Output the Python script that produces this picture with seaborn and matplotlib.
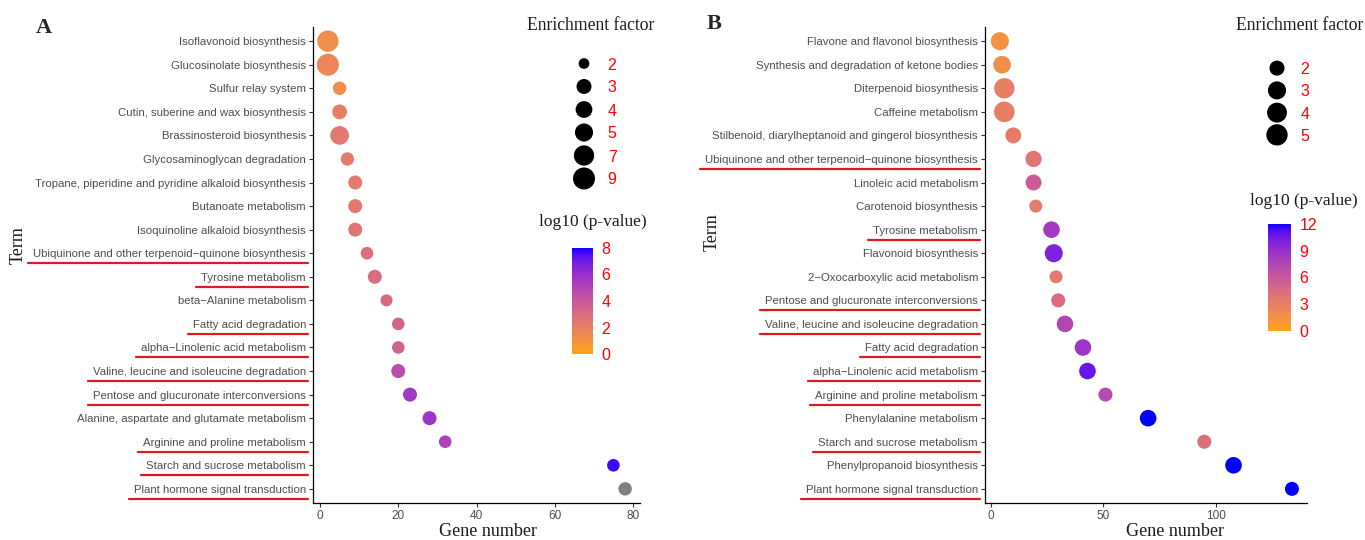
import numpy as np
import pandas as pd
import matplotlib
matplotlib.use("Agg")
import matplotlib.pyplot as plt
import seaborn as sns
from matplotlib.colors import ListedColormap, Normalize
from matplotlib.cm import ScalarMappable
from matplotlib.lines import Line2D

# Panel A : KEGG terms
terms_a = [
    "Isoflavonoid biosynthesis", "Glucosinolate biosynthesis", "Sulfur relay system",
    "Cutin, suberine and wax biosynthesis", "Brassinosteroid biosynthesis",
    "Glycosaminoglycan degradation", "Tropane, piperidine and pyridine alkaloid biosynthesis",
    "Butanoate metabolism", "Isoquinoline alkaloid biosynthesis",
    "Ubiquinone and other terpenoid\u2212quinone biosynthesis", "Tyrosine metabolism",
    "beta\u2212Alanine metabolism", "Fatty acid degradation", "alpha\u2212Linolenic acid metabolism",
    "Valine, leucine and isoleucine degradation", "Pentose and glucuronate interconversions",
    "Alanine, aspartate and glutamate metabolism", "Arginine and proline metabolism",
    "Starch and sucrose metabolism", "Plant hormone signal transduction",
]
genes_a = [2, 2, 5, 5, 5, 7, 9, 9, 9, 12, 14, 17, 20, 20, 20, 23, 28, 32, 75, 78]
ef_a = [8.2, 9.0, 2.4, 2.9, 5.5, 2.4, 2.6, 2.6, 2.6, 2.2, 2.6, 2.1, 2.2, 2.2, 2.6, 2.6, 2.6, 2.2, 2.2, 2.4]
logp_a = [1.2, 1.6, 1.2, 2.0, 2.4, 2.2, 2.2, 2.3, 2.5, 2.9, 3.0, 3.1, 3.4, 3.5, 4.6, 5.6, 5.8, 5.2, 7.7, 9.0]
underline_a = [
    "Ubiquinone and other terpenoid\u2212quinone biosynthesis", "Tyrosine metabolism",
    "Fatty acid degradation", "alpha\u2212Linolenic acid metabolism",
    "Valine, leucine and isoleucine degradation", "Pentose and glucuronate interconversions",
    "Arginine and proline metabolism", "Starch and sucrose metabolism",
    "Plant hormone signal transduction",
]

# Panel B
terms_b = [
    "Flavone and flavonol biosynthesis", "Synthesis and degradation of ketone bodies",
    "Diterpenoid biosynthesis", "Caffeine metabolism",
    "Stilbenoid, diarylheptanoid and gingerol biosynthesis",
    "Ubiquinone and other terpenoid\u2212quinone biosynthesis", "Linoleic acid metabolism",
    "Carotenoid biosynthesis", "Tyrosine metabolism", "Flavonoid biosynthesis",
    "2\u2212Oxocarboxylic acid metabolism", "Pentose and glucuronate interconversions",
    "Valine, leucine and isoleucine degradation", "Fatty acid degradation",
    "alpha\u2212Linolenic acid metabolism", "Arginine and proline metabolism",
    "Phenylalanine metabolism", "Starch and sucrose metabolism",
    "Phenylpropanoid biosynthesis", "Plant hormone signal transduction",
]
genes_b = [4, 5, 6, 6, 10, 19, 19, 20, 27, 28, 29, 30, 33, 41, 43, 51, 70, 95, 108, 134]
ef_b = [3.0, 2.8, 4.3, 4.5, 2.2, 2.3, 2.2, 1.8, 2.4, 3.0, 1.8, 1.85, 2.4, 2.4, 2.4, 1.85, 2.4, 1.85, 2.4, 1.85]
logp_b = [1.5, 1.8, 3.0, 3.0, 3.2, 3.8, 5.8, 3.3, 8.3, 10.0, 3.4, 4.5, 7.5, 8.7, 10.8, 7.2, 12.0, 4.3, 12.0, 12.0]
underline_b = [
    "Ubiquinone and other terpenoid\u2212quinone biosynthesis", "Tyrosine metabolism",
    "Pentose and glucuronate interconversions", "Valine, leucine and isoleucine degradation",
    "Fatty acid degradation", "alpha\u2212Linolenic acid metabolism",
    "Arginine and proline metabolism", "Starch and sucrose metabolism",
    "Plant hormone signal transduction",
]

size_breaks_a = [2, 3, 4, 5, 7, 9]
size_breaks_b = [2, 3, 4, 5]
cbar_ticks_a = [0, 2, 4, 6, 8]
cbar_ticks_b = [0, 3, 6, 9, 12]

W, H = 1365, 540

# --- orange -> blue gradient interpolated in Lab (like ggplot) ---
M = np.array([[0.4124564, 0.3575761, 0.1804375],
              [0.2126729, 0.7151522, 0.0721750],
              [0.0193339, 0.1191920, 0.9503041]])
WHITE = np.array([0.95047, 1.0, 1.08883])


def to_lab(rgb):
    c = np.asarray(rgb, float)
    lin = np.where(c <= 0.04045, c / 12.92, ((c + 0.055) / 1.055) ** 2.4)
    xyz = M @ lin / WHITE
    f = np.where(xyz > (6 / 29) ** 3, np.cbrt(xyz), xyz / (3 * (6 / 29) ** 2) + 4 / 29)
    return np.array([116 * f[1] - 16, 500 * (f[0] - f[1]), 200 * (f[1] - f[2])])


def from_lab(lab):
    L, a, b = lab
    fy = (L + 16) / 116
    f = np.array([fy + a / 500, fy, fy - b / 200])
    xyz = np.where(f > 6 / 29, f ** 3, 3 * (6 / 29) ** 2 * (f - 4 / 29)) * WHITE
    lin = np.clip(np.linalg.solve(M, xyz), 0, 1)
    c = np.where(lin <= 0.0031308, 12.92 * lin, 1.055 * lin ** (1 / 2.4) - 0.055)
    return np.clip(c, 0, 1)


lab0 = to_lab([1.0, 165 / 255, 0.0])
lab1 = to_lab([0.0, 0.0, 1.0])
cmap = ListedColormap([from_lab(lab0 + t * (lab1 - lab0)) for t in np.linspace(0, 1, 256)])
cmap.set_over("#7f7f7f")


def dot_area(ef, lo, hi, d0, d1):
    # ggplot area palette: diameter grows with sqrt of rescaled value (px -> pt^2)
    t = np.clip((np.asarray(ef, float) - lo) / (hi - lo), 0, 1)
    d_px = d0 + (d1 - d0) * np.sqrt(t)
    return (d_px * 0.72) ** 2


sns.set_style("ticks")
plt.rcParams["font.family"] = ["Liberation Sans", "DejaVu Sans"]
serif = ["Liberation Serif", "DejaVu Serif"]

fig = plt.figure(figsize=(W / 100, H / 100), dpi=100)


def fx(px):
    return px / W


def fy(py):
    return 1 - py / H


def panel(terms, genes, ef, logp, underline, ax_box, xlim, xticks, vmax, size_par,
          breaks, leg_box, cticks, cbar_box, letter, letter_xy, term_xy, gene_xy,
          ef_title_xy, lp_title_xy):
    lo, hi, d0, d1 = size_par
    df = pd.DataFrame({"term": terms, "genes": genes, "ef": ef, "logp": logp})
    df["area"] = dot_area(df["ef"], lo, hi, d0, d1)
    amin, amax = dot_area(lo, lo, hi, d0, d1), dot_area(hi, lo, hi, d0, d1)
    norm = Normalize(0, vmax)

    ax = fig.add_axes([fx(ax_box[0]), fy(ax_box[3]), fx(ax_box[2] - ax_box[0]),
                       (ax_box[3] - ax_box[1]) / H])
    sns.scatterplot(data=df, x="genes", y="term", hue="logp", palette=cmap, hue_norm=norm,
                    size="area", sizes=(amin, amax), size_norm=(amin, amax),
                    linewidth=0, legend=False, ax=ax)
    ax.set_xlim(*xlim)
    ax.set_ylim(len(terms) - 0.4, -0.6)
    ax.set_xticks(xticks)
    ax.set_xlabel("")
    ax.set_ylabel("")
    sns.despine(ax=ax)
    for s in ["left", "bottom"]:
        ax.spines[s].set_linewidth(0.9)
        ax.spines[s].set_color("black")
    ax.tick_params(axis="y", labelsize=8.2, labelcolor="#4d4d4d", color="#333333",
                   length=3, width=0.8, pad=2)
    ax.tick_params(axis="x", labelsize=8.5, labelcolor="#4d4d4d", color="#333333",
                   length=3, width=0.8, pad=2)

    # size legend
    lax = fig.add_axes([fx(leg_box[0]), fy(leg_box[3]), fx(leg_box[2] - leg_box[0]),
                        (leg_box[3] - leg_box[1]) / H])
    ldf = pd.DataFrame({"brk": [str(b) for b in breaks], "x": 0,
                        "area": dot_area(breaks, lo, hi, d0, d1)})
    sns.scatterplot(data=ldf, x="x", y="brk", size="area", sizes=(amin, amax),
                    size_norm=(amin, amax), color="black", linewidth=0, legend=False, ax=lax)
    lax.set_xlim(-1, 1)
    lax.set_ylim(len(breaks) - 0.5, -0.5)
    lax.set_xticks([])
    lax.set_xlabel("")
    lax.set_ylabel("")
    for s in lax.spines.values():
        s.set_visible(False)
    lax.yaxis.tick_right()
    lax.tick_params(axis="y", length=0, labelcolor="red", labelsize=11.5, pad=7)
    lax.patch.set_alpha(0)

    # colour bar
    cax = fig.add_axes([fx(cbar_box[0]), fy(cbar_box[3]), fx(cbar_box[2] - cbar_box[0]),
                        (cbar_box[3] - cbar_box[1]) / H])
    cb = fig.colorbar(ScalarMappable(norm=norm, cmap=cmap), cax=cax, ticks=cticks)
    cb.outline.set_visible(False)
    cax.tick_params(which="both", direction="in", length=4, width=0.8, color="white",
                    left=True, right=True, labelleft=False, labelright=True,
                    labelcolor="red", labelsize=11.5, pad=6)
    cax.minorticks_off()

    fig.text(fx(ef_title_xy[0]), fy(ef_title_xy[1]), "Enrichment factor", family=serif,
             fontsize=12.7, ha="center", va="center", color="#1a1a1a")
    fig.text(fx(lp_title_xy[0]), fy(lp_title_xy[1]), "log10 (p-value)", family=serif,
             fontsize=12.5, ha="center", va="center", color="#1a1a1a")
    fig.text(fx(letter_xy[0]), fy(letter_xy[1]), letter, family=serif, fontsize=16,
             fontweight="bold", ha="center", va="center")
    fig.text(fx(term_xy[0]), fy(term_xy[1]), "Term", family=serif, fontsize=13,
             rotation=90, ha="center", va="center", color="#1a1a1a")
    fig.text(fx(gene_xy[0]), fy(gene_xy[1]), "Gene number", family=serif, fontsize=13,
             ha="center", va="center", color="#1a1a1a")
    return ax, underline


panels = []
panels.append(panel(terms_a, genes_a, ef_a, logp_a, underline_a,
                    (313, 27, 640, 503), (-1.8, 81.8), [0, 20, 40, 60, 80], 8,
                    (2, 9, 10.7, 22), size_breaks_a, (570, 52, 598, 190),
                    cbar_ticks_a, (572, 248, 593, 354),
                    "A", (44, 28), (18, 245), (488, 531), (591, 26), (593, 222)))
panels.append(panel(terms_b, genes_b, ef_b, logp_b, underline_b,
                    (985, 27, 1307, 503), (-2.6, 140.7), [0, 50, 100], 12,
                    (1.8, 5.0, 13.0, 21.3), size_breaks_b, (1263, 57, 1291, 146),
                    cbar_ticks_b, (1268, 224, 1291, 331),
                    "B", (714, 24), (712, 232), (1175, 531), (1300, 26), (1304, 201)))

# red underlines below highlighted terms
fig.canvas.draw()
renderer = fig.canvas.get_renderer()
for ax, underline in panels:
    spine_x = ax.get_window_extent(renderer).x0
    for lab in ax.get_yticklabels():
        if lab.get_text() in underline:
            bb = lab.get_window_extent(renderer)
            yc = (bb.y0 + bb.y1) / 2 - 9
            fig.add_artist(Line2D([(bb.x0 - 5) / W, (spine_x - 5) / W], [yc / H, yc / H],
                                  transform=fig.transFigure, color="#e0191f", lw=1.6))

fig.savefig("out.png", dpi=100)
